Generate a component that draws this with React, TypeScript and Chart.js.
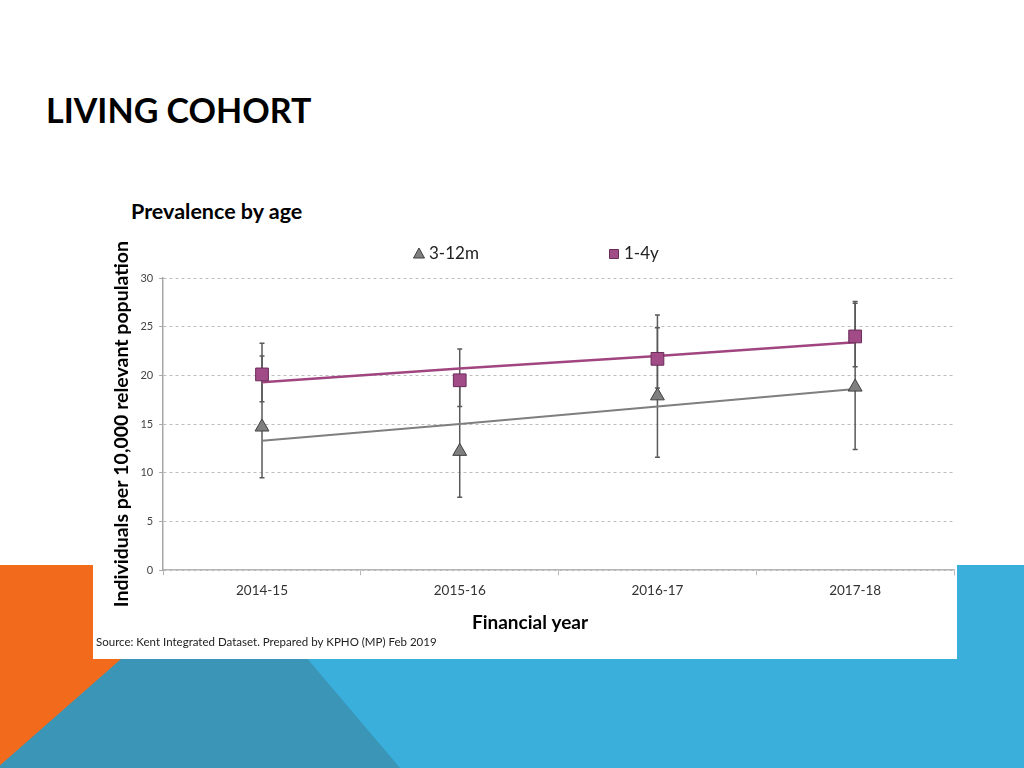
import React, { useEffect, useRef } from "react";
import { Chart, registerables } from "chart.js";

Chart.register(...registerables);

// ---- data ----
const categories = ["2014-15", "2015-16", "2016-17", "2017-18"];
const infantLabel = "3-12m";
const toddlerLabel = "1-4y";
const infantValues = [14.7, 12.2, 17.9, 18.8];
const infantLower = [9.5, 7.5, 11.6, 12.4];
const infantUpper = [22.0, 19.5, 26.2, 27.6];
const toddlerValues = [20.1, 19.5, 21.7, 24.0];
const toddlerLower = [17.3, 16.8, 18.7, 20.9];
const toddlerUpper = [23.3, 22.7, 24.9, 27.4];
const infantTrend = [13.3, 15.0, 16.8, 18.6];
const toddlerTrend = [19.3, 20.7, 22.0, 23.4];
const yMin = 0;
const yMax = 30;
const yStep = 5;

const FONT = "Lato, 'Open Sans', sans-serif";

const INFANT_FILL = "#7f7f7f";
const INFANT_EDGE = "#404040";
const TODDLER_FILL = "#a24c87";
const TODDLER_EDGE = "#6a2c58";

const errorBarPlugin = {
  id: "errorBars",
  beforeDatasetsDraw(chart: any) {
    const ctx = chart.ctx;
    const yScale = chart.scales.y;
    chart.data.datasets.forEach((ds: any, i: number) => {
      if (!ds.errLow || !ds.errHigh) return;
      const meta = chart.getDatasetMeta(i);
      ctx.save();
      ctx.strokeStyle = "#5a5a5a";
      ctx.lineWidth = 1.5;
      meta.data.forEach((pt: any, j: number) => {
        const x = pt.x;
        const yl = yScale.getPixelForValue(ds.errLow[j]);
        const yh = yScale.getPixelForValue(ds.errHigh[j]);
        ctx.beginPath();
        ctx.moveTo(x, yl);
        ctx.lineTo(x, yh);
        ctx.moveTo(x - 2.5, yl);
        ctx.lineTo(x + 2.5, yl);
        ctx.moveTo(x - 2.5, yh);
        ctx.lineTo(x + 2.5, yh);
        ctx.stroke();
      });
      ctx.restore();
    });
  },
};

// legend drawn with wide spacing between the two entries (as in the source image)
const legendPlugin = {
  id: "wideLegend",
  afterDraw(chart: any) {
    const ctx = chart.ctx;
    const items = chart.data.datasets.filter((ds: any) => ds.errLow);
    const y = 26;
    const startX = 326;
    const gap = 195;
    ctx.save();
    ctx.font = `17px ${FONT}`;
    ctx.textBaseline = "middle";
    ctx.textAlign = "left";
    items.forEach((ds: any, k: number) => {
      const cx = startX + k * gap;
      ctx.fillStyle = ds.pointBackgroundColor;
      ctx.strokeStyle = ds.pointBorderColor;
      ctx.lineWidth = 1;
      ctx.beginPath();
      if (ds.pointStyle === "triangle") {
        ctx.moveTo(cx, y - 6);
        ctx.lineTo(cx + 5.5, y + 4);
        ctx.lineTo(cx - 5.5, y + 4);
        ctx.closePath();
      } else {
        ctx.rect(cx - 4.5, y - 4.5, 9, 9);
      }
      ctx.fill();
      ctx.stroke();
      ctx.fillStyle = "#222";
      ctx.fillText(ds.label, cx + 10, y);
    });
    ctx.restore();
  },
};

function ChartBox() {
  const ref = useRef<HTMLCanvasElement | null>(null);
  useEffect(() => {
    if (!ref.current) return;
    const chart = new Chart(ref.current, {
      type: "line",
      data: {
        labels: categories,
        datasets: [
          {
            label: infantLabel,
            data: infantValues,
            showLine: false,
            pointStyle: "triangle",
            pointRadius: 8,
            pointBackgroundColor: INFANT_FILL,
            pointBorderColor: INFANT_EDGE,
            pointBorderWidth: 1,
            order: 1,
            errLow: infantLower,
            errHigh: infantUpper,
          } as any,
          {
            label: toddlerLabel,
            data: toddlerValues,
            showLine: false,
            pointStyle: "rect",
            pointRadius: 9,
            pointBackgroundColor: TODDLER_FILL,
            pointBorderColor: TODDLER_EDGE,
            pointBorderWidth: 1,
            order: 1,
            errLow: toddlerLower,
            errHigh: toddlerUpper,
          } as any,
          {
            label: "trend " + infantLabel,
            data: infantTrend,
            borderColor: "#7f7f7f",
            borderWidth: 2,
            pointRadius: 0,
            tension: 0,
            order: 3,
          },
          {
            label: "trend " + toddlerLabel,
            data: toddlerTrend,
            borderColor: "#a0457f",
            borderWidth: 2.5,
            pointRadius: 0,
            tension: 0,
            order: 3,
          },
        ],
      },
      options: {
        animation: false,
        responsive: false,
        maintainAspectRatio: false,
        layout: { padding: { top: 50, left: 3, right: 0, bottom: 10 } },
        plugins: {
          tooltip: { enabled: false },
          legend: { display: false },
          subtitle: {
            display: true,
            position: "bottom",
            text: "Financial year",
            color: "#000",
            font: { family: FONT, size: 19, weight: "bold" },
            padding: { top: 6, bottom: 1 },
          },
          title: {
            display: true,
            position: "bottom",
            align: "start",
            text: "Source: Kent Integrated Dataset. Prepared by KPHO (MP) Feb 2019",
            color: "#222",
            font: { family: FONT, size: 11.5, weight: "normal" },
            padding: { top: 0, bottom: 0 },
          },
        },
        scales: {
          x: {
            type: "category",
            offset: true,
            grid: {
              display: true,
              drawOnChartArea: false,
              drawTicks: true,
              tickLength: 5,
              offset: true,
              color: "#b5b5b5",
            },
            border: { display: true, color: "#b5b5b5", width: 1.5 },
            ticks: {
              color: "#333",
              font: { family: FONT, size: 13.5 },
              padding: 7,
            },
          },
          y: {
            min: yMin,
            max: yMax,
            ticks: {
              stepSize: yStep,
              color: "#444",
              font: { family: FONT, size: 11 },
              padding: 6,
            },
            grid: {
              color: "#bdbdbd",
              tickBorderDash: [],
              tickBorderDashOffset: 0,
              tickColor: "#a6a6a6",
              tickLength: 4,
              drawTicks: true,
            } as any,
            border: { display: true, color: "#a6a6a6", width: 1.5, dash: [3, 3] } as any,
            title: {
              display: true,
              text: "Individuals per 10,000 relevant population",
              color: "#000",
              font: { family: FONT, size: 19.5, weight: "bold" },
              padding: { top: 14, bottom: 1 },
            },
          },
        },
      },
      plugins: [errorBarPlugin, legendPlugin],
    });
    return () => chart.destroy();
  }, []);
  return <canvas ref={ref} width={871} height={431} style={{ display: "block" }} />;
}

export default function App() {
  return (
    <div
      style={{
        position: "absolute",
        left: 0,
        top: 0,
        width: 1024,
        height: 768,
        background: "#ffffff",
        overflow: "hidden",
        fontFamily: FONT,
      }}
    >
      <svg
        width={1024}
        height={768}
        style={{ position: "absolute", left: 0, top: 0 }}
      >
        <rect x={0} y={565} width={1024} height={203} fill="#3aafdc" />
        <polygon points="0,565 228,565 0,771" fill="#f26b1d" />
        <polygon points="228,565 400,768 -3,768" fill="#3a95b6" />
      </svg>
      <div
        style={{
          position: "absolute",
          left: 46,
          top: 87,
          fontSize: 34,
          fontWeight: 700,
          color: "#000",
          lineHeight: "46px",
          letterSpacing: 0,
        }}
      >
        LIVING COHORT
      </div>
      <div
        style={{
          position: "absolute",
          left: 131,
          top: 197,
          fontSize: 21.5,
          fontWeight: 700,
          color: "#000",
          lineHeight: "28px",
        }}
      >
        Prevalence by age
      </div>
      <div
        style={{
          position: "absolute",
          left: 93,
          top: 228,
          width: 864,
          height: 431,
          background: "#ffffff",
        }}
      >
        <ChartBox />
      </div>
    </div>
  );
}
